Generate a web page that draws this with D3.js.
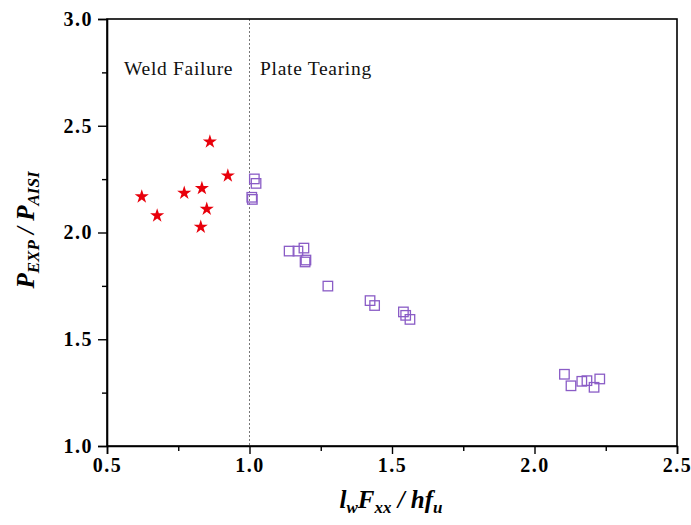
<!DOCTYPE html>
<html><head><meta charset="utf-8">
<script src="https://cdn.jsdelivr.net/npm/d3@7"></script>
<style>body{margin:0;background:#fff;}svg{display:block;}</style>
</head><body>
<script>
const weldX = [0.622, 0.676, 0.771, 0.833, 0.850, 0.829, 0.861, 0.924];
const weldY = [2.168, 2.079, 2.185, 2.207, 2.110, 2.026, 2.425, 2.266];
const plateX = [1.017, 1.023, 1.008, 1.010, 1.139, 1.170, 1.191, 1.195, 1.198, 1.275, 1.423, 1.439, 1.540, 1.548, 1.563, 2.105, 2.128, 2.166, 2.184, 2.209, 2.229];
const plateY = [2.251, 2.230, 2.165, 2.155, 1.913, 1.913, 1.927, 1.862, 1.871, 1.749, 1.681, 1.658, 1.628, 1.612, 1.593, 1.336, 1.282, 1.303, 1.306, 1.275, 1.314];
const xTicks = [0.5, 1.0, 1.5, 2.0, 2.5];
const yTicks = [1.0, 1.5, 2.0, 2.5, 3.0];
const xMinor = [0.75, 1.25, 1.75, 2.25];
const yMinor = [1.25, 1.75, 2.25, 2.75];
const regionLabels = ["Weld Failure", "Plate Tearing"];

const W = 691, H = 525;
const L = 107, R = 677, T = 19, B = 446;
const svg = d3.select("body").append("svg").attr("width", W).attr("height", H);
const x = d3.scaleLinear().domain([0.5, 2.5]).range([L, R]);
const y = d3.scaleLinear().domain([1.0, 3.0]).range([B, T]);
const font = "'Liberation Serif','Times New Roman',serif";

// divider line
svg.append("line").attr("x1", x(1.0)).attr("x2", x(1.0)).attr("y1", T).attr("y2", B)
  .attr("stroke", "#777").attr("stroke-width", 1).attr("stroke-dasharray", "2,2");

// frame
svg.append("rect").attr("x", L).attr("y", T).attr("width", R - L).attr("height", B - T)
  .attr("fill", "none").attr("stroke", "#000").attr("stroke-width", 1.6);

// x axis
svg.append("g").attr("transform", `translate(0,${B})`)
  .call(d3.axisBottom(x).tickValues(xTicks).tickFormat(d3.format(".1f")).tickSize(8).tickPadding(4));
svg.append("g").attr("transform", `translate(0,${B})`)
  .call(d3.axisBottom(x).tickValues(xMinor).tickFormat("").tickSize(5))
  .call(g => g.select(".domain").remove());
// y axis
svg.append("g").attr("transform", `translate(${L},0)`)
  .call(d3.axisLeft(y).tickValues(yTicks).tickFormat(d3.format(".1f")).tickSize(9).tickPadding(5));
svg.append("g").attr("transform", `translate(${L},0)`)
  .call(d3.axisLeft(y).tickValues(yMinor).tickFormat("").tickSize(5))
  .call(g => g.select(".domain").remove());

svg.selectAll(".domain").attr("stroke-width", 1.6);
svg.selectAll(".tick line").attr("stroke-width", 1.4);
svg.selectAll(".tick text").attr("font-family", font).attr("font-weight", "bold")
  .attr("font-size", 20).attr("letter-spacing", 1.5).attr("fill", "#000");

// region labels
svg.append("text").attr("x", 124).attr("y", 75).text(regionLabels[0])
  .attr("font-family", font).attr("font-size", 19.5).attr("letter-spacing", 0.7).attr("fill", "#111");
svg.append("text").attr("x", 260).attr("y", 75).text(regionLabels[1])
  .attr("font-family", font).attr("font-size", 19.5).attr("letter-spacing", 0.7).attr("fill", "#111");

// stars
const star = d3.symbol().type(d3.symbolStar).size(62);
svg.append("g").selectAll("path").data(weldX.map((v, i) => [v, weldY[i]])).join("path")
  .attr("d", star).attr("transform", d => `translate(${x(d[0])},${y(d[1])})`)
  .attr("fill", "#e8000b");

// squares
const sq = 9.5;
svg.append("g").selectAll("rect").data(plateX.map((v, i) => [v, plateY[i]])).join("rect")
  .attr("x", d => x(d[0]) - sq / 2).attr("y", d => y(d[1]) - sq / 2)
  .attr("width", sq).attr("height", sq)
  .attr("fill", "none").attr("stroke", "#8a5cc6").attr("stroke-width", 1.3);

// x title
const xt = svg.append("text").attr("x", 391).attr("y", 508).attr("text-anchor", "middle")
  .attr("font-family", font).attr("font-weight", "bold").attr("font-style", "italic").attr("font-size", 25);
xt.append("tspan").text("l");
xt.append("tspan").text("w").attr("font-size", 17).attr("dy", 5);
xt.append("tspan").text("F").attr("dy", -5);
xt.append("tspan").text("xx").attr("font-size", 17).attr("dy", 5);
xt.append("tspan").text(" / hf").attr("dy", -5);
xt.append("tspan").text("u").attr("font-size", 17).attr("dy", 5);

// y title
const yt = svg.append("text").attr("transform", `translate(34,${230}) rotate(-90)`).attr("text-anchor", "middle")
  .attr("font-family", font).attr("font-weight", "bold").attr("font-style", "italic").attr("font-size", 25);
yt.append("tspan").text("P");
yt.append("tspan").text("EXP").attr("font-size", 17).attr("dy", 5);
yt.append("tspan").text(" / P").attr("dy", -5);
yt.append("tspan").text("AISI").attr("font-size", 17).attr("dy", 5);
</script>
</body></html>
